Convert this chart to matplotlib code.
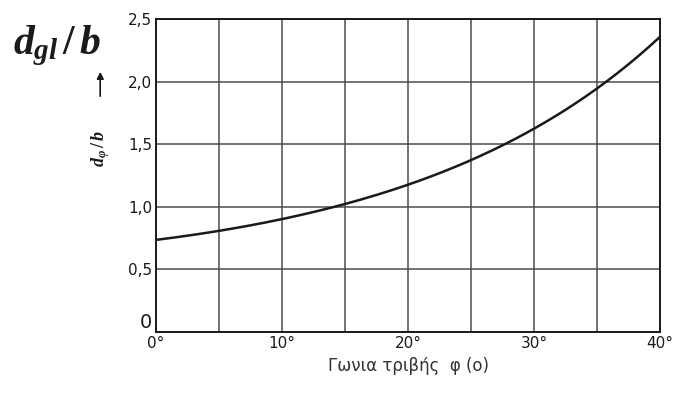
import matplotlib.pyplot as plt
import numpy as np

# values
phi_deg = [0, 5, 10, 15, 20, 25, 30, 35, 40]
d_over_b = [0.735, 0.807, 0.904, 1.016, 1.177, 1.386, 1.61, 1.95, 2.36]

x_ticks = [0, 10, 20, 30, 40]
x_tick_labels = ["0°", "10°", "20°", "30°", "40°"]
y_ticks = [0, 0.5, 1.0, 1.5, 2.0, 2.5]
y_tick_labels = ["0", "0,5", "1,0", "1,5", "2,0", "2,5"]

X_LABEL = "Γωνια τριβής  φ (ο)"
INK = "#1a1a1a"
GRID = "#4d4d4d"

plt.rcParams["mathtext.fontset"] = "custom"
plt.rcParams["mathtext.it"] = "Liberation Serif:italic:bold"
plt.rcParams["mathtext.rm"] = "Liberation Serif:bold"

fig = plt.figure(figsize=(6.73, 3.96), dpi=100)
ax = fig.add_axes([0.232, 0.162, 0.749, 0.790])

# smooth curve through the read points
xs = np.linspace(0, 40, 200)
coef = np.polyfit(phi_deg, np.log(d_over_b), 3)
ax.plot(xs, np.exp(np.polyval(coef, xs)), color=INK, linewidth=1.8)

ax.set_xlim(0, 40)
ax.set_ylim(0, 2.5)
ax.set_xticks(x_ticks)
ax.set_xticklabels(x_tick_labels, fontsize=11, color=INK)
ax.set_xticks(np.arange(0, 41, 5), minor=True)
ax.set_yticks(y_ticks)
ax.set_yticklabels(y_tick_labels, fontsize=11, color=INK)
ax.tick_params(which="both", length=0, pad=3)
ax.grid(True, which="both", color=GRID, linewidth=1.1)
for s in ax.spines.values():
    s.set_color(INK)
    s.set_linewidth(1.4)

# the "0" on the y axis sits just above the corner, a bit larger
zero_lbl = ax.get_yticklabels()[0]
zero_lbl.set_verticalalignment("bottom")
zero_lbl.set_fontsize(14)

ax.set_xlabel(X_LABEL, fontsize=12, color="#333333", labelpad=4)

fig.text(0.02, 0.885, r"$d_{gl}\,/\,b$", fontsize=30, color=INK, ha="left", va="center")
fig.text(0.149, 0.625, r"$d_\varphi\,/\,b$", fontsize=13, rotation=90, color=INK,
         ha="center", va="center")
fig.add_artist(plt.annotate("", xy=(0.149, 0.825), xytext=(0.149, 0.75),
                            xycoords="figure fraction",
                            arrowprops=dict(arrowstyle="-|>", color=INK, lw=1.0)))

fig.savefig("out.png", dpi=100)
